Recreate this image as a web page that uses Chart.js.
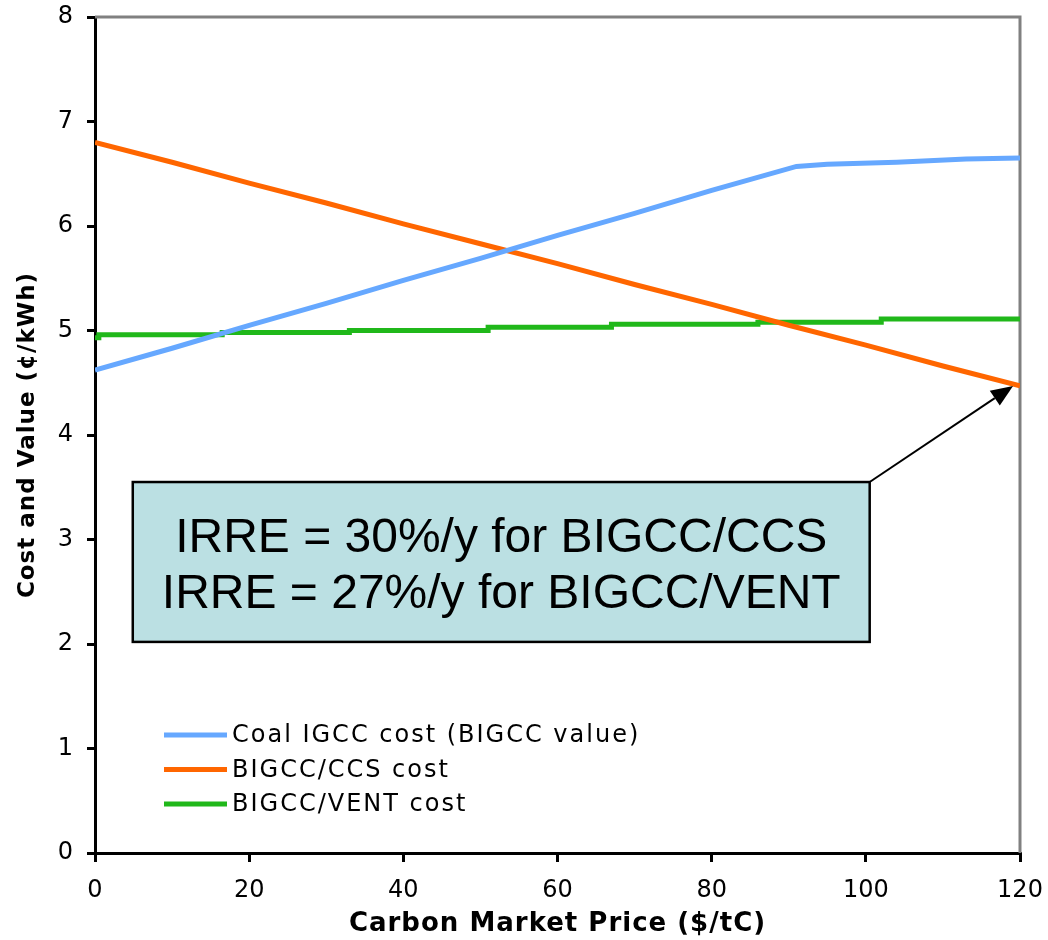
<!DOCTYPE html>
<html>
<head>
  <title>Carbon Market Price chart</title>
  <script src="https://cdn.jsdelivr.net/npm/chart.js"></script>
  <style>
    body { margin: 0; background: #fff; }
    #wrap { width: 1048px; height: 940px; }
  </style>
</head>
<body>
  <div id="wrap">
    <canvas id="costChart"></canvas>
  </div>

  <script>
    // Values
    const coalPrice = [0, 10, 20, 30, 40, 50, 60, 70, 80, 91, 95, 104, 113, 120];
    const coalCost = [4.62, 4.83, 5.05, 5.26, 5.48, 5.69, 5.91, 6.12, 6.34, 6.57, 6.59, 6.61, 6.64, 6.65];

    const ccsPrice = [0, 10, 20, 30, 40, 50, 60, 70, 80, 90, 100, 110, 120];
    const ccsCost = [6.80, 6.61, 6.41, 6.22, 6.02, 5.83, 5.64, 5.44, 5.25, 5.05, 4.86, 4.66, 4.47];

    const ventPrice = [0, 0.5, 16.5, 33, 51, 67, 86, 102, 120];
    const ventCost = [4.93, 4.96, 4.98, 5.0, 5.03, 5.06, 5.08, 5.11, 5.11];

    const seriesLabels = ['Coal IGCC cost (BIGCC value)', 'BIGCC/CCS cost', 'BIGCC/VENT cost'];
    const xTicks = [0, 20, 40, 60, 80, 100, 120];
    const yTicks = [0, 1, 2, 3, 4, 5, 6, 7, 8];
    const noteLines = ['IRRE = 30%/y for BIGCC/CCS', 'IRRE = 27%/y for BIGCC/VENT'];

    function toPoints(xs, ys) {
      return xs.map((x, i) => ({ x: x, y: ys[i] }));
    }

    // grey frame on top and right side of the plot
    const framePlugin = {
      id: 'frame',
      beforeDatasetsDraw(chart) {
        const { ctx, chartArea } = chart;
        ctx.save();
        ctx.strokeStyle = '#808080';
        ctx.lineWidth = 3;
        ctx.beginPath();
        ctx.moveTo(chartArea.left, chartArea.top);
        ctx.lineTo(chartArea.right, chartArea.top);
        ctx.lineTo(chartArea.right, chartArea.bottom);
        ctx.stroke();
        ctx.restore();
      }
    };

    // the original titles are set wider than DejaVu, add a bit of letter spacing
    const titleSpacingPlugin = {
      id: 'titleSpacing',
      beforeDraw(chart) {
        [['x', '1px'], ['y', '1px']].forEach(([id, sp]) => {
          const s = chart.scales[id];
          if (!s || s._spaced) return;
          const orig = s.drawTitle;
          s.drawTitle = function () {
            this.ctx.save();
            this.ctx.letterSpacing = sp;
            orig.apply(this, arguments);
            this.ctx.restore();
          };
          s._spaced = true;
        });
      }
    };

    // text box and arrow pointing at the CCS line end
    const notePlugin = {
      id: 'note',
      afterDatasetsDraw(chart) {
        const { ctx, scales } = chart;
        const x = scales.x, y = scales.y;
        const left = x.getPixelForValue(4.9);
        const right = x.getPixelForValue(100.5);
        const top = y.getPixelForValue(3.55);
        const bottom = y.getPixelForValue(2.02);
        ctx.save();
        ctx.fillStyle = '#BBE0E3';
        ctx.fillRect(left, top, right - left, bottom - top);
        ctx.strokeStyle = '#000';
        ctx.lineWidth = 2.5;
        ctx.strokeRect(left, top, right - left, bottom - top);

        ctx.fillStyle = '#000';
        ctx.font = '48px "Liberation Sans", Arial, sans-serif';
        ctx.textAlign = 'center';
        ctx.textBaseline = 'alphabetic';
        const cx = (left + right) / 2;
        ctx.fillText(noteLines[0], cx, top + 70);
        ctx.fillText(noteLines[1], cx, top + 126);

        // arrow
        const tipX = x.getPixelForValue(119.1);
        const tipY = y.getPixelForValue(4.47);
        const ang = Math.atan2(tipY - top, tipX - right);
        const headLen = 22, headW = 9;
        const baseX = tipX - headLen * Math.cos(ang);
        const baseY = tipY - headLen * Math.sin(ang);
        ctx.lineWidth = 2;
        ctx.beginPath();
        ctx.moveTo(right, top);
        ctx.lineTo(baseX, baseY);
        ctx.stroke();
        ctx.beginPath();
        ctx.moveTo(tipX, tipY);
        ctx.lineTo(baseX + headW * Math.sin(ang), baseY - headW * Math.cos(ang));
        ctx.lineTo(baseX - headW * Math.sin(ang), baseY + headW * Math.cos(ang));
        ctx.closePath();
        ctx.fill();
        ctx.restore();
      }
    };

    // legend drawn inside the plot, lower left
    const legendPlugin = {
      id: 'innerLegend',
      afterDraw(chart) {
        const { ctx } = chart;
        ctx.save();
        ctx.font = '24px "DejaVu Sans", Verdana, sans-serif';
        ctx.letterSpacing = '2px';
        ctx.textBaseline = 'middle';
        ctx.textAlign = 'left';
        chart.data.datasets.forEach((ds, i) => {
          const rowY = 735 + i * 34.5;
          ctx.strokeStyle = ds.borderColor;
          ctx.lineWidth = 5;
          ctx.beginPath();
          ctx.moveTo(164, rowY);
          ctx.lineTo(227, rowY);
          ctx.stroke();
          ctx.fillStyle = '#000';
          ctx.fillText(ds.label, 232, rowY + 1);
        });
        ctx.restore();
      }
    };

    new Chart(document.getElementById('costChart'), {
      type: 'line',
      data: {
        datasets: [
          {
            label: seriesLabels[0],
            data: toPoints(coalPrice, coalCost),
            borderColor: '#66A8FF',
            borderWidth: 5,
            pointRadius: 0,
            tension: 0
          },
          {
            label: seriesLabels[1],
            data: toPoints(ccsPrice, ccsCost),
            borderColor: '#FF6600',
            borderWidth: 5,
            pointRadius: 0,
            tension: 0
          },
          {
            label: seriesLabels[2],
            data: toPoints(ventPrice, ventCost),
            borderColor: '#20B81A',
            borderWidth: 5,
            pointRadius: 0,
            stepped: 'before'
          }
        ]
      },
      options: {
        responsive: true,
        maintainAspectRatio: false,
        animation: false,
        layout: { padding: { left: 0, right: 28, top: 17, bottom: 0 } },
        plugins: {
          legend: { display: false },
          tooltip: { enabled: false }
        },
        scales: {
          x: {
            type: 'linear',
            min: 0,
            max: 120,
            afterFit(scale) {
              scale.height = 87;
              scale.paddingLeft = 0;
              scale.paddingRight = 0;
            },
            afterBuildTicks(scale) { scale.ticks = xTicks.map(v => ({ value: v })); },
            border: { display: true, color: '#000', width: 3 },
            grid: { display: true, drawOnChartArea: false, drawTicks: true, tickLength: 9, color: '#000', lineWidth: 3 },
            ticks: { color: '#000', padding: 14, maxRotation: 0, font: { family: '"DejaVu Sans", Verdana, sans-serif', size: 24 } },
            title: {
              display: true,
              text: 'Carbon Market Price ($/tC)',
              color: '#000',
              padding: { top: 0, bottom: 0 },
              font: { family: '"DejaVu Sans", Verdana, sans-serif', size: 26, weight: 'bold' }
            }
          },
          y: {
            min: 0,
            max: 8,
            afterFit(scale) {
              scale.width = 95;
              scale.paddingTop = 0;
              scale.paddingBottom = 0;
            },
            afterBuildTicks(scale) { scale.ticks = yTicks.map(v => ({ value: v })); },
            border: { display: true, color: '#000', width: 3 },
            grid: { display: true, drawOnChartArea: false, drawTicks: true, tickLength: 8, color: '#000', lineWidth: 3 },
            ticks: { color: '#000', padding: 14, font: { family: '"DejaVu Sans", Verdana, sans-serif', size: 24 } },
            title: {
              display: true,
              text: 'Cost and Value (¢/kWh)',
              color: '#000',
              padding: { top: 14, bottom: 0 },
              font: { family: '"DejaVu Sans", Verdana, sans-serif', size: 23, weight: 'bold' }
            }
          }
        }
      },
      plugins: [framePlugin, titleSpacingPlugin, notePlugin, legendPlugin]
    });
  </script>
</body>
</html>
